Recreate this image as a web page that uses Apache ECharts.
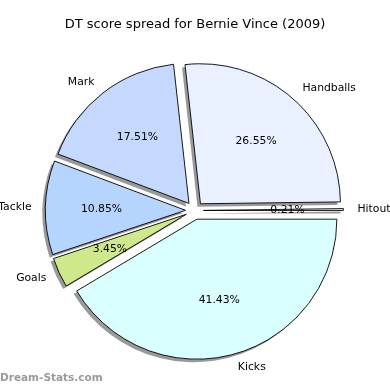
<!DOCTYPE html>
<html>
<head>
<meta charset="utf-8">
<script src="https://cdn.jsdelivr.net/npm/echarts@6/dist/echarts.min.js"></script>
<style>
html,body{margin:0;padding:0;background:#fff;}
#c{width:390px;height:390px;}
</style>
</head>
<body>
<div id="c"></div>
<script>
const titleText = 'DT score spread for Bernie Vince (2009)';
const categories = ['Hitout', 'Handballs', 'Mark', 'Tackle', 'Goals', 'Kicks'];
const values = [0.21, 26.55, 17.51, 10.85, 3.45, 41.43];
const colors = ['#f0f0f0', '#e9f0ff', '#c5d9ff', '#b5d5ff', '#cde98c', '#d9ffff'];
const watermark = 'Dream-Stats.com';

const FONT = 'DejaVu Sans';
const R = 140;
const CX = 194.5, CY = 210.5;
const OFFSET = 9;
const SH = 3;

const mainData = categories.map((c, i) => ({
  name: c, value: values[i], selected: true,
  itemStyle: { color: colors[i] }
}));
const plainData = categories.map((c, i) => ({
  name: c, value: values[i], selected: true
}));

const common = {
  type: 'pie', radius: [0, R], startAngle: 0, clockwise: false,
  selectedMode: 'multiple', selectedOffset: OFFSET,
  avoidLabelOverlap: false, silent: true,
  emphasis: { disabled: true }
};

const chart = echarts.init(document.getElementById('c'), null, { renderer: 'canvas' });
chart.setOption({
  animation: false,
  backgroundColor: '#fff',
  title: {
    text: titleText, left: 'center', top: 18, padding: 0,
    textStyle: { fontFamily: FONT, fontSize: 13, fontWeight: 'normal', color: '#000' }
  },
  graphic: [{
    type: 'text', left: 0, top: 373,
    style: { text: watermark, fontFamily: FONT, fontSize: 10.5, fontWeight: 'bold', fill: '#9a9a9a' }
  }],
  series: [
    Object.assign({}, common, {
      name: 'shadow', center: [CX - SH, CY + SH], z: 1,
      itemStyle: { color: 'rgba(0,0,0,0.4)', borderWidth: 0 },
      select: { itemStyle: { color: 'rgba(0,0,0,0.4)', borderWidth: 0 } },
      label: { show: false }, labelLine: { show: false },
      data: plainData
    }),
    Object.assign({}, common, {
      name: 'main', center: [CX, CY], z: 2,
      itemStyle: { borderColor: '#000', borderWidth: 0.9 },
      select: { itemStyle: { borderColor: '#000', borderWidth: 0.9 } },
      label: {
        show: true, position: 'outside', alignTo: 'none', distanceToLabelLine: 0,
        fontFamily: FONT, fontSize: 10.8, color: '#000', formatter: '{b}'
      },
      labelLine: { show: false, length: 14, length2: 0 },
      data: mainData
    }),
    Object.assign({}, common, {
      name: 'pct', center: [CX, CY], radius: [22, R], z: 3,
      itemStyle: { color: 'rgba(0,0,0,0)', borderWidth: 0 },
      select: { itemStyle: { color: 'rgba(0,0,0,0)', borderWidth: 0 } },
      label: {
        show: true, position: 'inside',
        fontFamily: FONT, fontSize: 10.8, color: '#000',
        formatter: p => p.value.toFixed(2) + '%'
      },
      labelLine: { show: false },
      data: plainData
    })
  ]
});
</script>
</body>
</html>
